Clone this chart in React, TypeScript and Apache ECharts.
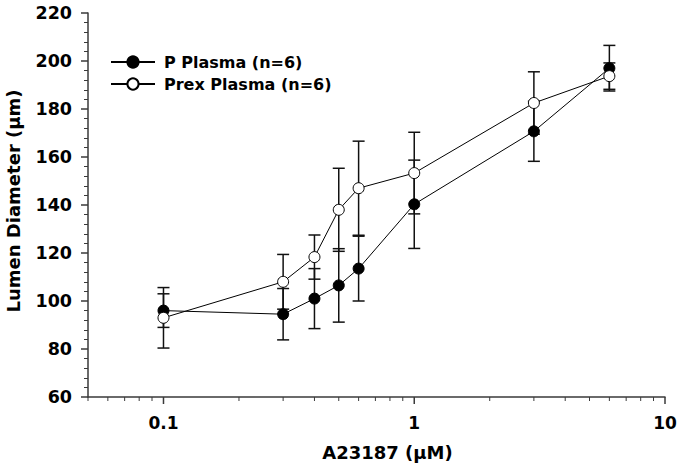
import React, { useEffect, useRef } from "react";
import * as echarts from "echarts";

const concentrations = [0.1, 0.3, 0.4, 0.5, 0.6, 1, 3, 6];
const pPlasmaMean = [96, 94.5, 101, 106.5, 113.5, 140.3, 170.7, 197];
const pPlasmaErr = [7, 10.7, 12.5, 15.3, 13.5, 18.4, 12.5, 9.5];
const prexPlasmaMean = [93, 108, 118.3, 138, 147, 153.3, 182.5, 193.7];
const prexPlasmaErr = [12.6, 11.4, 9.2, 17.3, 19.6, 17, 13, 5.5];

const majorXTicks = [0.1, 1, 10];
const minorXTicks = [0.05, 0.06, 0.07, 0.08, 0.09, 0.2, 0.3, 0.4, 0.5, 0.6, 0.7, 0.8, 0.9, 2, 3, 4, 5, 6, 7, 8, 9];

const FONT = "DejaVu Sans";
const AXIS_COLOR = "#3a3a3a";

export default function App() {
  const ref = useRef<HTMLDivElement>(null);

  useEffect(() => {
    if (!ref.current) return;
    const chart = echarts.init(ref.current, null, { renderer: "svg" });

    const errData = (means: number[], errs: number[]) =>
      concentrations.map((x, i) => [x, means[i] - errs[i], means[i] + errs[i]]);

    const errRender = (params: any, api: any) => {
      const x = api.value(0);
      const lo = api.coord([x, api.value(1)]);
      const hi = api.coord([x, api.value(2)]);
      const w = 6;
      const style = { stroke: "#111", lineWidth: 1.5 };
      return {
        type: "group",
        children: [
          { type: "line", shape: { x1: hi[0], y1: hi[1], x2: lo[0], y2: lo[1] }, style },
          { type: "line", shape: { x1: hi[0] - w, y1: hi[1], x2: hi[0] + w, y2: hi[1] }, style },
          { type: "line", shape: { x1: lo[0] - w, y1: lo[1], x2: lo[0] + w, y2: lo[1] }, style },
        ],
      };
    };

    const tickData = [
      ...majorXTicks.map((v) => [v, 7]),
      ...minorXTicks.map((v) => [v, 4]),
    ];

    chart.setOption({
      animation: false,
      grid: { left: 88, top: 13, right: 15, bottom: 73, outerBoundsMode: "none", containLabel: false },
      legend: {
        orient: "vertical",
        left: 110,
        top: 54,
        padding: 0,
        itemWidth: 44,
        itemHeight: 14,
        itemGap: 6,
        data: ["P Plasma (n=6)", "Prex Plasma (n=6)"],
        textStyle: {
          fontFamily: FONT,
          fontWeight: "bold",
          fontSize: 16,
          color: "#000",
          padding: [0, 0, 0, 4],
        },
      },
      xAxis: {
        type: "log",
        logBase: 10,
        min: 0.05,
        max: 10,
        name: "A23187 (μM)",
        nameLocation: "middle",
        nameGap: 46,
        nameTextStyle: {
          fontFamily: FONT,
          fontWeight: "bold",
          fontSize: 18,
          color: "#000",
          padding: [0, 0, 0, 22],
        },
        axisLine: { lineStyle: { color: AXIS_COLOR, width: 1.5 } },
        axisTick: { show: false },
        splitLine: { show: false },
        axisLabel: {
          margin: 17,
          fontFamily: FONT,
          fontWeight: "bold",
          fontSize: 17,
          color: "#000",
          formatter: (v: number) => {
            const l = Math.log10(v);
            if (Math.abs(l - Math.round(l)) > 1e-6) return "";
            const p = Math.round(l);
            return p < 0 ? (Math.pow(10, p)).toFixed(-p) : String(Math.pow(10, p));
          },
        },
      },
      yAxis: {
        type: "value",
        min: 60,
        max: 220,
        interval: 20,
        name: "Lumen Diameter (μm)",
        nameLocation: "middle",
        nameGap: 66,
        nameTextStyle: {
          fontFamily: FONT,
          fontWeight: "bold",
          fontSize: 18,
          color: "#000",
          padding: [0, 0, 0, 8],
        },
        axisLine: { show: true, lineStyle: { color: AXIS_COLOR, width: 1.5 } },
        axisTick: { show: true, length: 7, lineStyle: { color: AXIS_COLOR, width: 1.5 } },
        minorTick: { show: true, splitNumber: 5, length: 4, lineStyle: { color: AXIS_COLOR, width: 1 } },
        splitLine: { show: false },
        axisLabel: {
          margin: 16,
          fontFamily: FONT,
          fontWeight: "bold",
          fontSize: 17.5,
          color: "#000",
        },
      },
      series: [
        {
          type: "custom",
          name: "xticks",
          clip: false,
          silent: true,
          z: 1,
          data: tickData,
          renderItem: (params: any, api: any) => {
            const p = api.coord([api.value(0), 60]);
            const len = api.value(1);
            return {
              type: "line",
              shape: { x1: p[0], y1: p[1], x2: p[0], y2: p[1] + len },
              style: { stroke: AXIS_COLOR, lineWidth: len > 5 ? 1.5 : 1 },
            };
          },
        },
        {
          type: "custom",
          name: "pErr",
          z: 2,
          silent: true,
          data: errData(pPlasmaMean, pPlasmaErr),
          renderItem: errRender,
        },
        {
          type: "custom",
          name: "prexErr",
          z: 2,
          silent: true,
          data: errData(prexPlasmaMean, prexPlasmaErr),
          renderItem: errRender,
        },
        {
          type: "line",
          name: "P Plasma (n=6)",
          z: 3,
          data: concentrations.map((x, i) => [x, pPlasmaMean[i]]),
          symbol: "circle",
          symbolSize: 11,
          showSymbol: true,
          lineStyle: { color: "#000", width: 1 },
          itemStyle: { color: "#000", borderColor: "#000", borderWidth: 1 },
        },
        {
          type: "line",
          name: "Prex Plasma (n=6)",
          z: 4,
          data: concentrations.map((x, i) => [x, prexPlasmaMean[i]]),
          symbol: "circle",
          symbolSize: 11,
          showSymbol: true,
          lineStyle: { color: "#000", width: 1 },
          itemStyle: { color: "#fff", borderColor: "#000", borderWidth: 1 },
        },
      ],
    });

    return () => chart.dispose();
  }, []);

  return (
    <div
      ref={ref}
      style={{ position: "absolute", left: 0, top: 0, width: 680, height: 470 }}
    />
  );
}
